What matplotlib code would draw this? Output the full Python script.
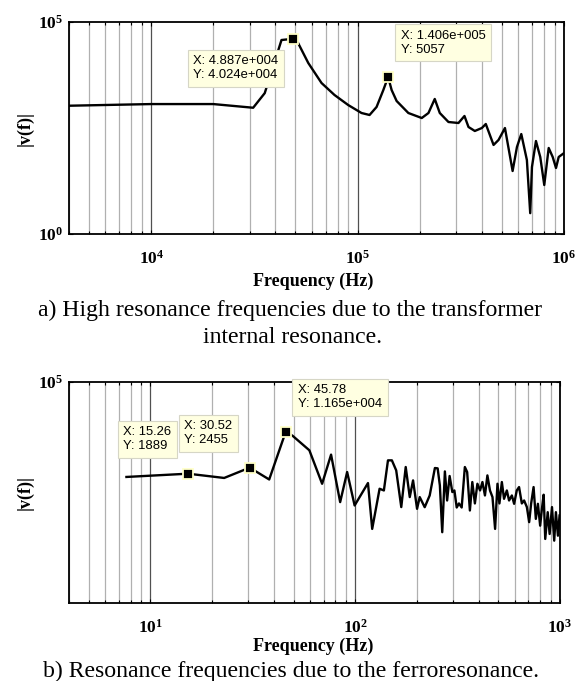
import numpy as np
import matplotlib
matplotlib.use("Agg")
import matplotlib.pyplot as plt
from matplotlib import ticker

plt.rcParams['mathtext.fontset'] = 'custom'
plt.rcParams['mathtext.rm'] = 'Liberation Serif:bold'
plt.rcParams['mathtext.bf'] = 'Liberation Serif:bold'
plt.rcParams['mathtext.it'] = 'Liberation Serif:bold'

# ---- data: a) transformer internal resonance ----
top_freq = [4000, 10000, 20000, 31200, 35500, 42800, 48870, 51500, 57700, 66900,
            77300, 90100, 104500, 114300, 123600, 133300, 140600, 146200, 154600, 176200,
            204600, 220500, 236500, 250200, 275600, 308100, 329500, 344600, 369800, 400000,
            418000, 455800, 481800, 517500, 563700, 591700, 621000, 661000, 686000, 699400,
            731300, 767300, 802400, 843000, 881600, 914600, 942600, 1000000]
top_mag = [1060, 1160, 1160, 950, 2100, 37600, 40240, 32000, 10800, 3640,
           1900, 1100, 714, 641, 990, 2490, 5057, 2490, 1370, 714,
           544, 714, 1530, 714, 438, 415, 607, 334, 269, 316,
           393, 126, 165, 316, 30.6, 113, 228, 55.6, 3.1, 38,
           156, 65.5, 14.3, 107, 65.5, 36, 65.5, 81]
top_tip_x = [4.887e4, 1.406e5]
top_tip_y = [4.024e4, 5057]
top_tip_text = ["X: 4.887e+004\nY: 4.024e+004", "X: 1.406e+005\nY: 5057"]

# ---- data: b) ferroresonance ----
bot_freq = [7.63, 15.26, 22.9, 30.52, 38.0, 45.78, 49.5, 59.7, 68.9, 76.2,
            84.4, 91.3, 99.3, 115.4, 121, 131.5, 138, 144.5, 151, 158.5,
            167.8, 176.4, 184.6, 191.6, 200.4, 206.5, 218.4, 231, 244.9, 252.6,
            259, 266, 274, 281, 289, 298, 305, 313, 321, 331,
            343, 352, 363, 373, 384, 395, 407, 418, 430, 442,
            455, 468, 482, 495, 506, 520, 533, 550, 564, 582,
            597, 615, 631, 651, 668, 689, 707, 723, 743, 762,
            780, 800, 816, 832, 847, 871, 890, 914, 937, 955,
            977, 995]
bot_mag = [1640, 1889, 1570, 2455, 1470, 11650, 9710, 5200, 1220, 4310,
           552, 2030, 477, 1260, 173, 984, 914, 3365, 3365, 2180,
           445, 2523, 686, 1413, 413, 686, 443, 736, 2415, 2380,
           1135, 150, 2085, 592, 1710, 853, 914, 437, 521, 437,
           2523, 2030, 384, 1316, 521, 1222, 914, 1316, 736, 1754,
           914, 686, 173, 1222, 521, 1316, 637, 914, 592, 736,
           513, 914, 1059, 521, 592, 445, 232, 521, 1059, 267,
           513, 199, 413, 760, 112, 357, 139, 445, 104, 357,
           129, 309]
bot_tip_x = [15.26, 30.52, 45.78]
bot_tip_y = [1889, 2455, 11650]
bot_tip_text = ["X: 15.26\nY: 1889", "X: 30.52\nY: 2455", "X: 45.78\nY: 1.165e+004"]

# text box offsets (points) from each marker, top-left anchor
top_offsets = [(-72, -12), (9, 34)]
bot_offsets = [(-46.5, 34), (-47, 34), (9, 34)]

fig = plt.figure(figsize=(5.78, 6.81), dpi=100)
ax1 = fig.add_axes([69/578, 1-234/681, 495/578, 212/681])
ax2 = fig.add_axes([69/578, 1-603/681, 491/578, 221/681])

def style(ax, xlim, ylim, yticks, xpad):
    ax.set_xscale('log')
    ax.set_yscale('log')
    ax.set_xlim(*xlim)
    ax.set_ylim(*ylim)
    ax.set_yticks(yticks)
    ax.yaxis.set_minor_locator(ticker.NullLocator())
    fmt = ticker.FuncFormatter(lambda v, p: r'$\mathbf{10^{%d}}$' % round(np.log10(v)))
    ax.xaxis.set_major_formatter(fmt)
    ax.yaxis.set_major_formatter(fmt)
    ax.xaxis.set_minor_formatter(ticker.NullFormatter())
    ax.grid(True, which='major', axis='x', color='#505050', lw=0.9)
    ax.grid(True, which='minor', axis='x', color='#b0b0b0', lw=0.9)
    ax.tick_params(which='both', direction='in', top=True, right=True,
                   labelsize=12.5, width=0.8)
    ax.tick_params(which='major', length=3)
    ax.tick_params(which='minor', length=2)
    ax.tick_params(axis='x', pad=xpad)
    ax.tick_params(axis='y', pad=4)
    for s in ax.spines.values():
        s.set_linewidth(1.3)
    ax.set_axisbelow(True)

def tips(ax, xs, ys, labels, offsets):
    ax.plot(xs, ys, 's', ms=6.5, mfc='black', mec='#ffffc8', mew=1.3,
            zorder=5, clip_on=False)
    for x, y, t, (dx, dy) in zip(xs, ys, labels, offsets):
        ax.annotate(t, (x, y), xytext=(dx, dy), textcoords='offset points',
                    ha='left', va='top', fontsize=9.4, family='Liberation Sans',
                    linespacing=1.2, zorder=6, annotation_clip=False,
                    bbox=dict(boxstyle='square,pad=0.45', fc='#ffffe1',
                              ec='#d6d6c6', lw=0.8))

style(ax1, (4000, 1e6), (1, 1e5), [1, 1e5], 11)
ax1.plot(top_freq, top_mag, color='black', lw=1.7, solid_joinstyle='round')
tips(ax1, top_tip_x, top_tip_y, top_tip_text, top_offsets)

style(ax2, (4, 1000), (7, 1e5), [1e5], 11)
ax2.plot(bot_freq, bot_mag, color='black', lw=1.7, solid_joinstyle='round')
tips(ax2, bot_tip_x, bot_tip_y, bot_tip_text, bot_offsets)

serif_b = dict(family='Liberation Serif', weight='bold', fontsize=13)
fig.text(25/578, 1-128/681, '|v(f)|', rotation=90, ha='center', va='center', **serif_b)
fig.text(25/578, 1-492/681, '|v(f)|', rotation=90, ha='center', va='center', **serif_b)
fig.text(313/578, 1-281/681, 'Frequency (Hz)', ha='center', va='center', **serif_b)
fig.text(313/578, 1-646/681, 'Frequency (Hz)', ha='center', va='center', **serif_b)

cap = dict(family='Liberation Serif', fontsize=17.1, ha='center', va='baseline')
fig.text(290/578, 1-316/681, 'a) High resonance frequencies due to the transformer', **cap)
fig.text(293/578, 1-343/681, 'internal resonance.', **cap)
fig.text(291/578, 1-677/681, 'b) Resonance frequencies due to the ferroresonance.', **cap)

fig.savefig('out.png', dpi=100)
